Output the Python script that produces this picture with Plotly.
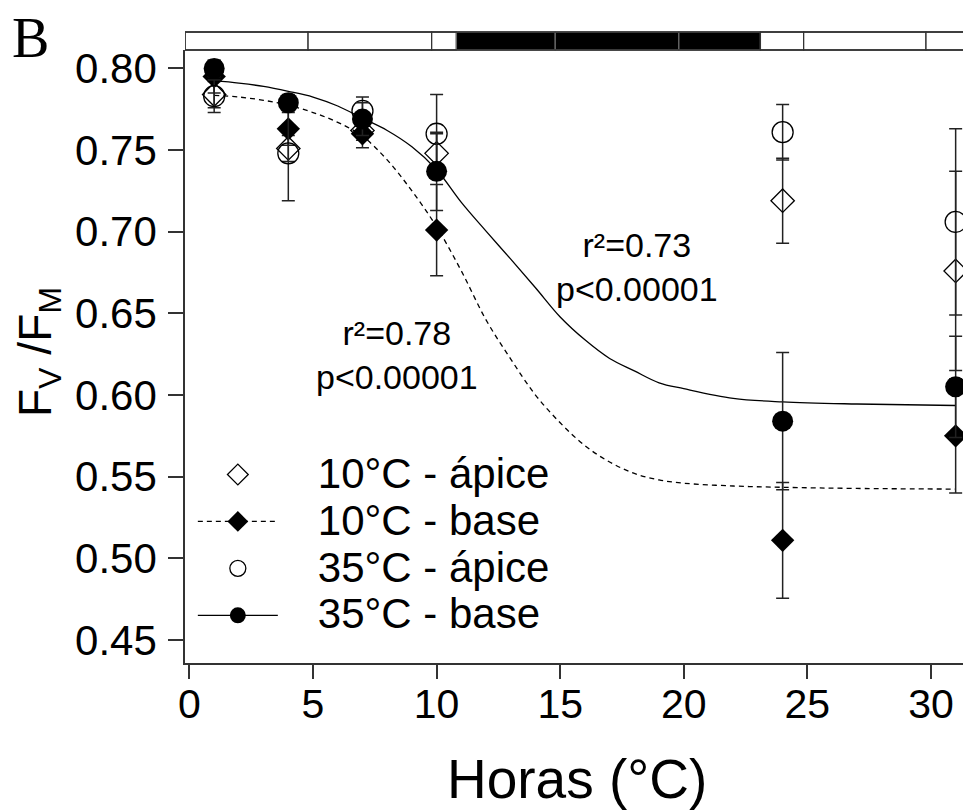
import plotly.graph_objects as go

# ---------------- data ----------------
hours = [1, 4, 7, 10, 24, 31]

apex10 = [0.784, 0.751, 0.762, 0.748, 0.719, 0.676]
apex10_err = [0.008, 0.008, 0.006, 0.012, 0.026, 0.061]
base10 = [0.795, 0.763, 0.760, 0.701, 0.511, 0.575]
base10_err = [0.010, 0.010, 0.0085, 0.028, 0.0355, 0.035]
apex35 = [0.783, 0.748, 0.774, 0.760, 0.761, 0.706]
apex35_err = [0.010, 0.029, 0.0085, 0.024, 0.017, 0.057]
base35 = [0.800, 0.779, 0.769, 0.737, 0.584, 0.605]
base35_err = [0.005, 0.005, 0.010, 0.024, 0.042, 0.031]

# fitted curves
fit_h = [1, 2, 3, 4, 5, 6, 7, 8, 9, 10, 11, 12, 13, 14, 15, 16, 17, 18, 19, 20, 22, 24, 27, 31]
fit10 = [0.7835, 0.7825, 0.7805, 0.7775, 0.773, 0.767, 0.7585, 0.744, 0.725, 0.703, 0.676,
         0.646, 0.622, 0.600, 0.583, 0.569, 0.559, 0.552, 0.548, 0.546, 0.5443, 0.5435, 0.5428, 0.5424]
fit35 = [0.7925, 0.791, 0.789, 0.786, 0.7825, 0.777, 0.7695, 0.762, 0.752, 0.738, 0.718,
         0.7004, 0.6832, 0.6657, 0.6478, 0.6338, 0.6224, 0.6148, 0.6075, 0.6039, 0.598, 0.5958, 0.5945, 0.5936]

labels = ["10°C - ápice", "10°C - base", "35°C - ápice", "35°C - base"]
r2_texts = ["r²=0.78<br>p<0.00001", "r²=0.73<br>p<0.00001"]

# light/dark bar on top (hour positions of the cell borders)
bar_edges = [4.8, 9.8, 10.8, 14.8, 19.8, 23.1, 24.85, 29.8]
dark_start, dark_end = 10.8, 23.1

x_range = [-0.18, 31.54]
y_range = [0.4359, 0.8113]
yticks = [0.45, 0.50, 0.55, 0.60, 0.65, 0.70, 0.75, 0.80]
xticks = [0, 5, 10, 15, 20, 25, 30]

FONT = "Liberation Sans, Arial, sans-serif"
ink = "#000000"
err_col = "#222222"

# geometry (the page body adds an 8 px offset)
W, H = 963, 802
ML, MR, MT, MB = 177, 2, 42, 147
plot_w = W - ML - MR
plot_h = H - MT - MB

fig = go.Figure()

def err(arr):
    return dict(type="data", array=arr, visible=True, color=err_col, thickness=1.5, width=6.5)

# fitted curves
fig.add_trace(go.Scatter(x=fit_h, y=fit10, mode="lines", line=dict(color=ink, width=1.3, dash="5px,4px"),
                         showlegend=False, hoverinfo="skip", line_shape="spline", cliponaxis=False))
fig.add_trace(go.Scatter(x=fit_h, y=fit35, mode="lines", line=dict(color=ink, width=1.3),
                         showlegend=False, hoverinfo="skip", line_shape="spline", cliponaxis=False))

# data points
fig.add_trace(go.Scatter(x=hours, y=apex10, error_y=err(apex10_err), mode="markers", cliponaxis=False,
                         marker=dict(symbol="diamond-open", size=18, color=ink, line=dict(width=1.3, color=ink)),
                         name=labels[0], showlegend=False))
fig.add_trace(go.Scatter(x=hours, y=base10, error_y=err(base10_err), mode="markers", cliponaxis=False,
                         marker=dict(symbol="diamond", size=18, color=ink),
                         name=labels[1], showlegend=False))
fig.add_trace(go.Scatter(x=hours, y=apex35, error_y=err(apex35_err), mode="markers", cliponaxis=False,
                         marker=dict(symbol="circle-open", size=21, color=ink, line=dict(width=1.3, color=ink)),
                         name=labels[2], showlegend=False))
fig.add_trace(go.Scatter(x=hours, y=base35, error_y=err(base35_err), mode="markers", cliponaxis=False,
                         marker=dict(symbol="circle", size=21, color=ink),
                         name=labels[3], showlegend=False))

def leg_name(s):
    return '<span style="font-size:42px">\u00a0\u00a0\u00a0' + s + '</span>'

# legend entries
fig.add_trace(go.Scatter(x=[None], y=[None], mode="markers", name=leg_name(labels[0]),
                         marker=dict(symbol="diamond-open", size=16, color=ink, line=dict(width=1.3, color=ink))))
fig.add_trace(go.Scatter(x=[None], y=[None], mode="lines+markers", name=leg_name(labels[1]),
                         line=dict(color=ink, width=1.3, dash="5px,4px"),
                         marker=dict(symbol="diamond", size=16, color=ink)))
fig.add_trace(go.Scatter(x=[None], y=[None], mode="markers", name=leg_name(labels[2]),
                         marker=dict(symbol="circle-open", size=16, color=ink, line=dict(width=1.3, color=ink))))
fig.add_trace(go.Scatter(x=[None], y=[None], mode="lines+markers", name=leg_name(labels[3]),
                         line=dict(color=ink, width=1.3),
                         marker=dict(symbol="circle", size=16, color=ink)))

# top bar
bar_top = 1 + 18 / plot_h
cuts = [x_range[0]] + bar_edges + [x_range[1]]
shapes = []
for a, b in zip(cuts[:-1], cuts[1:]):
    dark = a >= dark_start and b <= dark_end
    shapes.append(dict(type="rect", xref="x", yref="paper", x0=a, x1=b, y0=1, y1=bar_top,
                       fillcolor=ink if dark else "white",
                       line=dict(color="#666666" if dark else "#333333", width=1.3), layer="above"))
shapes.append(dict(type="rect", xref="x", yref="paper", x0=x_range[0], x1=x_range[1], y0=1, y1=bar_top,
                   fillcolor="rgba(0,0,0,0)", line=dict(color="#333333", width=1.5), layer="above"))

def px_x(px):  # screenshot px -> paper x
    return (px - 8 - ML) / plot_w

def px_y(py):  # screenshot px -> paper y
    return (H - MB - (py - 8)) / plot_h

annotations = [
    dict(x=8.40, y=0.6248, xref="x", yref="y", text=r2_texts[0], showarrow=False,
         font=dict(family=FONT, size=34, color=ink), align="center"),
    dict(x=18.12, y=0.6787, xref="x", yref="y", text=r2_texts[1], showarrow=False,
         font=dict(family=FONT, size=34, color=ink), align="center"),
    dict(x=px_x(577), y=px_y(779), xref="paper", yref="paper", xanchor="center", yanchor="middle",
         text="Horas (°C)", showarrow=False, font=dict(family=FONT, size=55, color=ink)),
    dict(x=px_x(38), y=px_y(352), xref="paper", yref="paper", xanchor="center",
         yanchor="middle", textangle=-90, text="F<sub>V</sub> /F<sub>M</sub>", showarrow=False,
         font=dict(family=FONT, size=46, color=ink)),
    dict(x=px_x(10), y=px_y(38), xref="paper", yref="paper", xanchor="left",
         yanchor="middle", text="B", showarrow=False,
         font=dict(family="Liberation Serif, Times New Roman, serif", size=56, color=ink)),
]

fig.update_layout(
    width=W, height=H,
    margin=dict(l=ML, r=MR, t=MT, b=MB),
    paper_bgcolor="white", plot_bgcolor="white",
    font=dict(family=FONT, color=ink),
    shapes=shapes,
    annotations=annotations,
    legend=dict(x=0.01, y=px_y(446), xanchor="left", yanchor="top", bgcolor="rgba(0,0,0,0)",
                font=dict(family=FONT, size=33.8, color=ink), itemwidth=80, tracegroupgap=0),
    xaxis=dict(range=x_range, tickvals=xticks, ticks="outside", ticklen=14, tickwidth=1.5,
               tickcolor="#333333", showline=True, linecolor="#333333", linewidth=1.5,
               showgrid=False, zeroline=False, ticklabelstandoff=-10,
               tickfont=dict(family=FONT, size=41, color=ink)),
    yaxis=dict(range=y_range, tickvals=yticks, tickformat=".2f", ticks="outside", ticklen=15,
               tickwidth=1.5, tickcolor="#333333", showline=True, linecolor="#333333", linewidth=1.5,
               showgrid=False, zeroline=False, ticklabelstandoff=3,
               tickfont=dict(family=FONT, size=42, color=ink)),
)

fig.write_html("out.html")
